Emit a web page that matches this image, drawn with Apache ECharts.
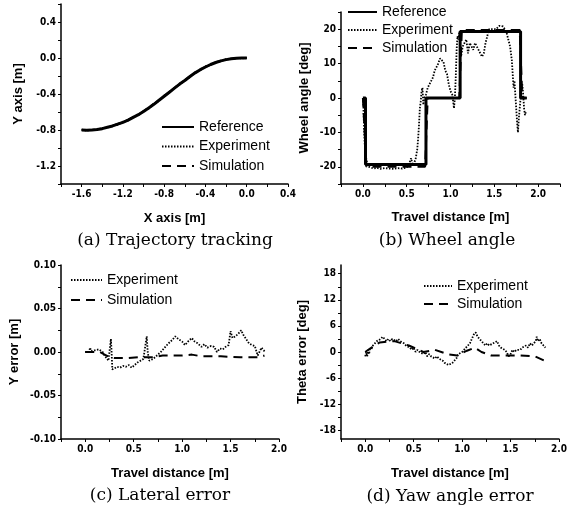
<!DOCTYPE html>
<html><head><meta charset="utf-8">
<script src="https://cdn.jsdelivr.net/npm/echarts@6/dist/echarts.min.js"></script>
<style>html,body{margin:0;padding:0;background:#fff}#c{width:577px;height:510px}</style>
</head><body><div id="c"></div>
<script>
// ---- (a) Trajectory tracking ----
const trajX = [-1.6,-1.55,-1.5,-1.45,-1.4,-1.35,-1.3,-1.25,-1.2,-1.15,-1.1,-1.05,-1.0,-0.95,-0.9,-0.85,-0.8,-0.75,-0.7,-0.65,-0.6,-0.55,-0.5,-0.45,-0.4,-0.35,-0.3,-0.25,-0.2,-0.15,-0.1,-0.05,0.0];
const trajRefY = [-0.80,-0.802,-0.80,-0.795,-0.785,-0.77,-0.755,-0.735,-0.715,-0.69,-0.66,-0.63,-0.595,-0.555,-0.515,-0.47,-0.425,-0.38,-0.335,-0.29,-0.25,-0.205,-0.165,-0.13,-0.10,-0.072,-0.05,-0.032,-0.018,-0.008,-0.003,0.0,0.0];
const trajExpY = [-0.795,-0.808,-0.795,-0.80,-0.778,-0.775,-0.748,-0.742,-0.708,-0.696,-0.652,-0.636,-0.588,-0.561,-0.508,-0.476,-0.418,-0.386,-0.328,-0.296,-0.243,-0.211,-0.158,-0.136,-0.094,-0.078,-0.044,-0.037,-0.013,-0.012,0.002,-0.004,0.003];
const trajSimY = [-0.80,-0.80,-0.798,-0.792,-0.782,-0.768,-0.752,-0.732,-0.712,-0.688,-0.658,-0.627,-0.592,-0.552,-0.512,-0.468,-0.423,-0.378,-0.333,-0.288,-0.248,-0.204,-0.164,-0.129,-0.099,-0.071,-0.049,-0.031,-0.017,-0.008,-0.003,0.0,0.0];
const trajXTicks = [-1.8,-1.6,-1.4,-1.2,-1.0,-0.8,-0.6,-0.4,-0.2,0.0,0.2,0.4];
const trajXLabels = [-1.6,-1.2,-0.8,-0.4,0.0,0.4];
const trajYTicks = [-1.4,-1.2,-1.0,-0.8,-0.6,-0.4,-0.2,0.0,0.2,0.4,0.6];
const trajYLabels = [-1.2,-0.8,-0.4,0.0,0.4];

// ---- (b) Wheel angle ----
const wheelRefX = [0,0.03,0.03,0.72,0.72,1.11,1.11,1.80,1.80,1.87];
const wheelRefY = [0,0,-19.3,-19.3,0,0,19.3,19.3,0,0];
const wheelSimX = [0,0.02,0.04,0.71,0.74,1.10,1.13,1.79,1.82,1.87];
const wheelSimY = [0,-10,-20,-20,0,0,19.8,19.8,0,0];
const wheelExp = [[0,0],[0.005,-2],[0.01,-6],[0.015,-10],[0.02,-13],[0.03,-16],[0.04,-18],[0.05,-19],[0.07,-20],[0.09,-20.5],[0.12,-20.5],[0.16,-20.3],[0.2,-20.6],[0.25,-20.4],[0.3,-20.5],[0.35,-20.6],[0.4,-20.4],[0.45,-20.5],[0.5,-20.2],[0.53,-19],[0.55,-17.5],[0.57,-19.5],[0.6,-18],[0.62,-15],[0.63,-12],[0.64,-8],[0.65,-3],[0.66,-1],[0.67,2],[0.68,3],[0.69,-2],[0.7,0],[0.72,1],[0.74,3],[0.76,4],[0.78,5],[0.8,6],[0.82,8],[0.84,9],[0.86,10],[0.88,11.5],[0.9,12],[0.92,10.5],[0.94,8],[0.96,7],[0.98,4],[1.0,2],[1.02,1],[1.03,-1],[1.04,-3],[1.05,0],[1.06,6],[1.07,14],[1.08,18],[1.09,17],[1.1,19],[1.12,12],[1.14,15],[1.16,16],[1.18,17],[1.2,13],[1.22,16],[1.24,15],[1.26,14],[1.28,16],[1.3,15],[1.32,14],[1.34,13],[1.36,12],[1.38,13],[1.4,16],[1.42,18],[1.44,20],[1.46,19.5],[1.48,20],[1.5,19.5],[1.52,20],[1.54,20.5],[1.56,21],[1.58,20.5],[1.6,20.8],[1.62,20],[1.64,19],[1.66,17],[1.68,15],[1.7,11],[1.71,7],[1.72,3],[1.73,5],[1.74,1],[1.75,-3],[1.76,-7],[1.77,-10],[1.78,-6],[1.79,-3],[1.8,0],[1.81,3],[1.82,4],[1.83,1],[1.84,-3],[1.85,-5],[1.86,-4]];
const distTicksB = [-0.25,0,0.25,0.5,0.75,1.0,1.25,1.5,1.75,2.0,2.25];
const distLabels = [0.0,0.5,1.0,1.5,2.0];
const wheelYTicks = [-25,-20,-15,-10,-5,0,5,10,15,20,25];
const wheelYLabels = [-20,-10,0,10,20];

// ---- (c) Lateral error ----
const latExp = [[0,0],[0.02,0.001],[0.04,0],[0.05,0.005],[0.06,0.001],[0.08,0.002],[0.1,0.002],[0.12,0.003],[0.14,0.003],[0.16,0.004],[0.18,0.0],[0.2,-0.004],[0.22,-0.006],[0.24,-0.01],[0.26,-0.012],[0.265,0.015],[0.27,0.005],[0.28,-0.02],[0.3,-0.018],[0.33,-0.017],[0.36,-0.018],[0.39,-0.016],[0.42,-0.017],[0.45,-0.015],[0.48,-0.018],[0.51,-0.015],[0.54,-0.012],[0.57,-0.01],[0.6,-0.008],[0.62,-0.006],[0.635,0.018],[0.645,0.0],[0.66,-0.01],[0.7,-0.008],[0.74,-0.004],[0.78,0.0],[0.82,0.005],[0.86,0.01],[0.9,0.014],[0.93,0.018],[0.96,0.015],[1.0,0.012],[1.03,0.008],[1.06,0.012],[1.1,0.016],[1.13,0.012],[1.16,0.01],[1.2,0.006],[1.23,0.009],[1.26,0.005],[1.3,0.007],[1.33,0.006],[1.36,0.0],[1.39,0.004],[1.42,0.003],[1.45,0.006],[1.48,0.008],[1.5,0.024],[1.52,0.016],[1.55,0.018],[1.58,0.021],[1.61,0.025],[1.63,0.02],[1.66,0.015],[1.69,0.01],[1.72,0.008],[1.75,0.007],[1.78,-0.004],[1.8,-0.002],[1.82,0.005],[1.84,0.002],[1.86,0.0]];
const latSim = [[0,0],[0.15,0],[0.2,-0.003],[0.25,-0.006],[0.3,-0.007],[0.45,-0.007],[0.55,-0.006],[0.7,-0.006],[0.8,-0.004],[1.0,-0.004],[1.1,-0.003],[1.2,-0.005],[1.4,-0.005],[1.6,-0.006],[1.8,-0.006],[1.85,-0.004]];
const distTicksCD = [-0.25,0,0.25,0.5,0.75,1.0,1.25,1.5,1.75,2.0];
const latYTicks = [-0.1,-0.075,-0.05,-0.025,0,0.025,0.05,0.075,0.1];
const latYLabels = [-0.1,-0.05,0,0.05,0.1];

// ---- (d) Yaw angle error ----
const yawExp = [[0,-1],[0.01,0],[0.02,-1],[0.03,0.5],[0.04,-0.5],[0.05,1],[0.06,0.5],[0.08,1.5],[0.1,2],[0.12,2.5],[0.14,2.5],[0.16,3],[0.18,3.5],[0.2,3],[0.22,2.5],[0.24,3],[0.26,2.5],[0.28,3],[0.3,3.2],[0.32,2.5],[0.34,3],[0.36,2.5],[0.38,2.5],[0.4,2],[0.42,1.5],[0.44,1.5],[0.46,1],[0.48,0.5],[0.5,1],[0.52,0],[0.54,0.5],[0.56,0],[0.58,0],[0.6,-0.5],[0.62,0],[0.64,-1],[0.66,-0.5],[0.68,-1],[0.7,-1],[0.72,-1.5],[0.74,-1],[0.76,-1.5],[0.78,-1.5],[0.8,-2],[0.82,-2.5],[0.84,-2.5],[0.86,-3],[0.88,-3.2],[0.9,-2.5],[0.92,-2],[0.94,-1.5],[0.96,-0.5],[0.98,-0.5],[1.0,0],[1.02,0.5],[1.04,1],[1.06,1.5],[1.08,2],[1.1,3],[1.12,4],[1.14,4.5],[1.16,3.5],[1.18,3],[1.2,2.5],[1.22,2],[1.24,1.5],[1.26,2],[1.28,1.5],[1.3,1.5],[1.32,2],[1.34,2],[1.36,2.5],[1.38,1.5],[1.4,1],[1.42,1],[1.44,0.5],[1.46,0],[1.48,-1],[1.5,-0.5],[1.52,0.5],[1.54,0],[1.56,0.5],[1.58,0.5],[1.6,0.5],[1.62,1],[1.64,1],[1.66,1.5],[1.68,1],[1.7,2],[1.72,1.5],[1.74,2],[1.76,2.5],[1.77,3.5],[1.78,2.5],[1.8,3],[1.82,2],[1.84,1.5],[1.86,1]];
const yawSim = [[0,0],[0.05,0.8],[0.15,2.2],[0.3,2.5],[0.45,1.5],[0.6,0],[0.72,0.5],[0.85,-0.5],[0.95,-0.8],[1.05,0.3],[1.13,1],[1.2,0],[1.3,-0.8],[1.45,-0.8],[1.6,-0.8],[1.75,-1],[1.85,-2]];
const yawYTicks = [-18,-15,-12,-9,-6,-3,0,3,6,9,12,15,18];
const yawYLabels = [-18,-12,-6,0,6,12,18];

const seriesNames = ['Reference','Experiment','Simulation'];
const captions = ['(a) Trajectory tracking','(b) Wheel angle','(c) Lateral error','(d) Yaw angle error'];

const zip = (xs, ys) => xs.map((x, i) => [x, ys[i]]);
const TICKFONT = '"Liberation Sans Narrow","DejaVu Sans Condensed","Liberation Sans",Arial,sans-serif';
const NAMEFONT = '"Liberation Sans",Arial,sans-serif';

function axis(kind, gi, min, max, ticks, labels, dec, name, nameGap) {
  return {
    type: 'value', gridIndex: gi, min: min, max: max,
    position: kind === 'x' ? 'bottom' : 'left',
    name: name, nameLocation: 'middle', nameGap: nameGap,
    nameTextStyle: {fontFamily: NAMEFONT, fontWeight: 'bold', fontSize: 13, color: '#000'},
    axisLine: {show: true, onZero: false, lineStyle: {color: '#000', width: 1.5}},
    axisTick: {show: true, inside: false, length: 3, customValues: ticks, lineStyle: {color: '#000', width: 1}},
    axisLabel: {show: true, customValues: labels, margin: 5, color: '#000', fontFamily: TICKFONT, fontWeight: 'bold', fontSize: 10,
      formatter: v => Number(v).toFixed(dec)},
    splitLine: {show: false}, minorTick: {show: false}
  };
}

const REF = {color: '#000', width: 3, type: 'solid'};
const EXP = {color: '#000', width: 1.8, type: [1.5, 1.5]};
const SIM = {color: '#000', width: 2, type: [9, 6]};
function line(name, gi, data, ls) {
  return {type: 'line', name: name, xAxisIndex: gi, yAxisIndex: gi, data: data,
    showSymbol: false, symbol: 'none', lineStyle: ls, itemStyle: {color: '#000', opacity: 0},
    animation: false, silent: true, z: ls === REF ? 3 : 2};
}

function legend(names, left, top, w, gap) {
  return {data: names, orient: 'vertical', left: left, top: top, padding: 0,
    itemWidth: w, itemHeight: 14, itemGap: gap, selectedMode: false,
    itemStyle: {opacity: 0, color: 'transparent', borderWidth: 0},
    textStyle: {fontFamily: NAMEFONT, fontSize: 14, color: '#000'}};
}

function caption(text, x, y) {
  return {type: 'text', x: x, y: y, silent: true,
    style: {text: text, fill: '#000', font: '17px "DejaVu Serif","Liberation Serif",serif', textAlign: 'center', textVerticalAlign: 'middle'}};
}

const option = {
  backgroundColor: '#fff',
  animation: false,
  grid: [
    {left: 61, top: 4, width: 227, height: 180},
    {left: 341, top: 12, width: 219, height: 172},
    {left: 61, top: 265, width: 218, height: 174},
    {left: 341, top: 265, width: 218, height: 174}
  ],
  xAxis: [
    axis('x', 0, -1.8, 0.4, trajXTicks, trajXLabels, 1, 'X axis [m]', 28),
    axis('x', 1, -0.25, 2.25, distTicksB, distLabels, 1, 'Travel distance [m]', 27),
    axis('x', 2, -0.25, 2.0, distTicksCD, distLabels, 1, 'Travel distance [m]', 28),
    axis('x', 3, -0.25, 2.0, distTicksCD, distLabels, 1, 'Travel distance [m]', 28)
  ],
  yAxis: [
    axis('y', 0, -1.4, 0.6, trajYTicks, trajYLabels, 1, 'Y axis [m]', 36),
    axis('y', 1, -25, 25, wheelYTicks, wheelYLabels, 0, 'Wheel angle [deg]', 30),
    axis('y', 2, -0.1, 0.1, latYTicks, latYLabels, 2, 'Y error [m]', 40),
    axis('y', 3, -20, 20, yawYTicks, yawYLabels, 0, 'Theta error [deg]', 32)
  ],
  legend: [
    legend(seriesNames, 161, 120, 32, 5.5),
    legend(seriesNames, 347, 5, 29, 4),
    legend(['Experiment','Simulation'], 70, 273, 31, 6),
    legend(['Experiment','Simulation'], 423, 279, 28, 4)
  ],
  series: [
    line('Reference', 0, zip(trajX, trajRefY), REF),
    line('Experiment', 0, zip(trajX, trajExpY), EXP),
    line('Simulation', 0, zip(trajX, trajSimY), SIM),
    line('Reference', 1, zip(wheelRefX, wheelRefY), REF),
    line('Experiment', 1, wheelExp, EXP),
    line('Simulation', 1, zip(wheelSimX, wheelSimY), SIM),
    line('Experiment', 2, latExp, EXP),
    line('Simulation', 2, latSim, SIM),
    line('Experiment', 3, yawExp, EXP),
    line('Simulation', 3, yawSim, SIM)
  ],
  graphic: [
    caption(captions[0], 175, 241),
    caption(captions[1], 447, 241),
    caption(captions[2], 160, 496),
    caption(captions[3], 450, 497)
  ]
};
const chart = echarts.init(document.getElementById('c'), null, {renderer: 'canvas'});
chart.setOption(option);
</script></body></html>
